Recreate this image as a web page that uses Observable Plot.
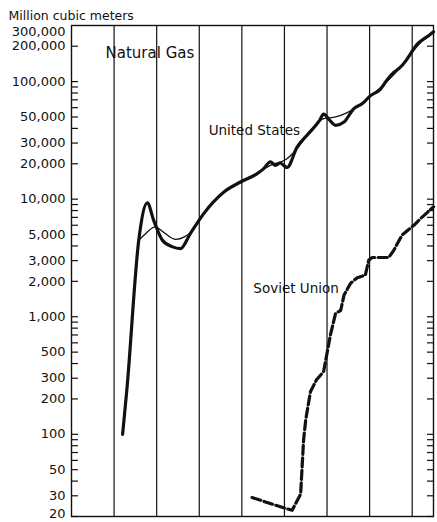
<!DOCTYPE html>
<html><head><meta charset="utf-8">
<script src="https://cdn.jsdelivr.net/npm/d3@7"></script>
<script src="https://cdn.jsdelivr.net/npm/@observablehq/plot@0.6"></script>
<style>body{margin:0;background:#fff}</style>
</head><body><div id="chart"></div>
<script>
// United States, actual (thick line)
const usYears = [1882, 1883, 1885.8, 1887.8, 1889.3, 1891.3, 1893.6, 1895.6, 1897.9, 1901, 1905.8, 1909.7, 1913.6, 1915, 1916.7, 1917.9, 1919, 1920.6, 1923, 1925.3, 1926.5, 1928.3, 1929.2, 1930.5, 1932, 1934, 1936.3, 1938.3, 1940.2, 1942.5, 1944, 1945.7, 1947, 1948.5, 1949.6, 1951, 1952.5, 1954, 1955];
const usValues = [100, 240, 4500, 9300, 6600, 4500, 3950, 3800, 5100, 7500, 11500, 14000, 16500, 18000, 20800, 19400, 20300, 18600, 27800, 35000, 39000, 47000, 53000, 47500, 42500, 45300, 59000, 65000, 76000, 86000, 102000, 120000, 130000, 150000, 172000, 205000, 228000, 248000, 265000];
// United States, trend (thin line)
const trendYears = [1885.8, 1887, 1889.7, 1891.5, 1894.5, 1896.5, 1898.5, 1901, 1905, 1910, 1914, 1916.7, 1920.6, 1923, 1926, 1929.2, 1932, 1934.5, 1936.5, 1940, 1943, 1946, 1949, 1952, 1955];
const trendValues = [4500, 4940, 5820, 5270, 4550, 4780, 5460, 7400, 10800, 14200, 17000, 19400, 22100, 27000, 38000, 48400, 50000, 54000, 59000, 74000, 92000, 118000, 160000, 215000, 262000];
// Soviet Union (dashed line)
const suYears = [1912.4, 1919.8, 1921.8, 1923.8, 1924.5, 1925, 1926.1, 1927.5, 1929.2, 1930.8, 1932, 1933.2, 1934, 1935.5, 1937.1, 1939, 1939.8, 1940.6, 1944.5, 1945.7, 1947.6, 1950.4, 1952, 1955];
const suValues = [29, 23.7, 22.6, 31, 90, 133, 230, 290, 342, 700, 1070, 1130, 1530, 1920, 2150, 2260, 3030, 3190, 3190, 3690, 4940, 6000, 6860, 8600];

const gridYears = [1880, 1890, 1900, 1910, 1920, 1930, 1940, 1950];
const tickValues = [20,30,40,50,60,70,80,90,100,200,300,400,500,600,700,800,900,1000,2000,3000,4000,5000,6000,7000,8000,9000,10000,20000,30000,40000,50000,60000,70000,80000,90000,100000,200000];
const labelValues = [20,30,50,100,200,300,500,1000,2000,3000,5000,10000,20000,30000,50000,100000,200000,300000];
const topLabel = 300000;
const bottomLabel = 20;

const us = usYears.map((y, i) => ({year: y, value: usValues[i]}));
const trend = trendYears.map((y, i) => ({year: y, value: trendValues[i]}));
const su = suYears.map((y, i) => ({year: y, value: suValues[i]}));
const fmt = d3.format(",");
const font = "DejaVu Sans";

const chart = Plot.plot({
  width: 437, height: 522,
  marginLeft: 71, marginRight: 4, marginTop: 25, marginBottom: 6,
  style: {fontFamily: font, fontSize: "13px", color: "#111", background: "#fff"},
  x: {domain: [1870, 1955], axis: null},
  y: {type: "log", domain: [20, 300000], axis: null},
  marks: [
    Plot.ruleX(gridYears, {x: d => d, stroke: "#111", strokeWidth: 1.2}),
    Plot.frame({stroke: "#111", strokeWidth: 1.4}),
    Plot.axisY(tickValues, {anchor: "left", label: null, tickSize: -7, tickFormat: () => "", stroke: "#111", strokeWidth: 1.2}),
    Plot.axisY(tickValues, {anchor: "right", label: null, tickSize: -7, tickFormat: () => "", stroke: "#111", strokeWidth: 1.2}),
    Plot.text(labelValues.filter(d => d !== topLabel && d !== bottomLabel), {y: d => d, frameAnchor: "left", textAnchor: "end", dx: -6, text: d => fmt(d), fontSize: 13, fill: "#111"}),
    Plot.text([topLabel], {y: d => d, frameAnchor: "left", textAnchor: "end", dx: -6, dy: 6, text: d => fmt(d), fontSize: 13, fill: "#111"}),
    Plot.text([bottomLabel], {y: d => d, frameAnchor: "left", textAnchor: "end", dx: -6, dy: -3, text: d => fmt(d), fontSize: 13, fill: "#111"}),
    Plot.text(["Million cubic meters"], {frameAnchor: "top-left", textAnchor: "start", lineAnchor: "bottom", dx: -63, dy: -6, text: d => d, fontSize: 12.5, fill: "#111"}),
    Plot.line(trend, {x: "year", y: "value", stroke: "#111", strokeWidth: 1.3, curve: "monotone-x"}),
    Plot.line(us, {x: "year", y: "value", stroke: "#111", strokeWidth: 3.2, curve: "monotone-x", strokeLinejoin: "round", strokeLinecap: "round"}),
    Plot.line(su, {x: "year", y: "value", stroke: "#111", strokeWidth: 3.2, strokeDasharray: "9,3.5", curve: "linear"}),
    Plot.text(["Natural Gas"], {x: 1878, y: 176000, text: d => d, textAnchor: "start", fontSize: 15, fill: "#111", style: "letter-spacing:0.8px"}),
    Plot.text(["United States"], {x: 1902.2, y: 38400, text: d => d, textAnchor: "start", fontSize: 13.5, fill: "#111"}),
    Plot.text(["Soviet Union"], {x: 1912.7, y: 1725, text: d => d, textAnchor: "start", fontSize: 13.5, fill: "#111"})
  ]
});
document.getElementById("chart").appendChild(chart);
</script>
</body></html>
